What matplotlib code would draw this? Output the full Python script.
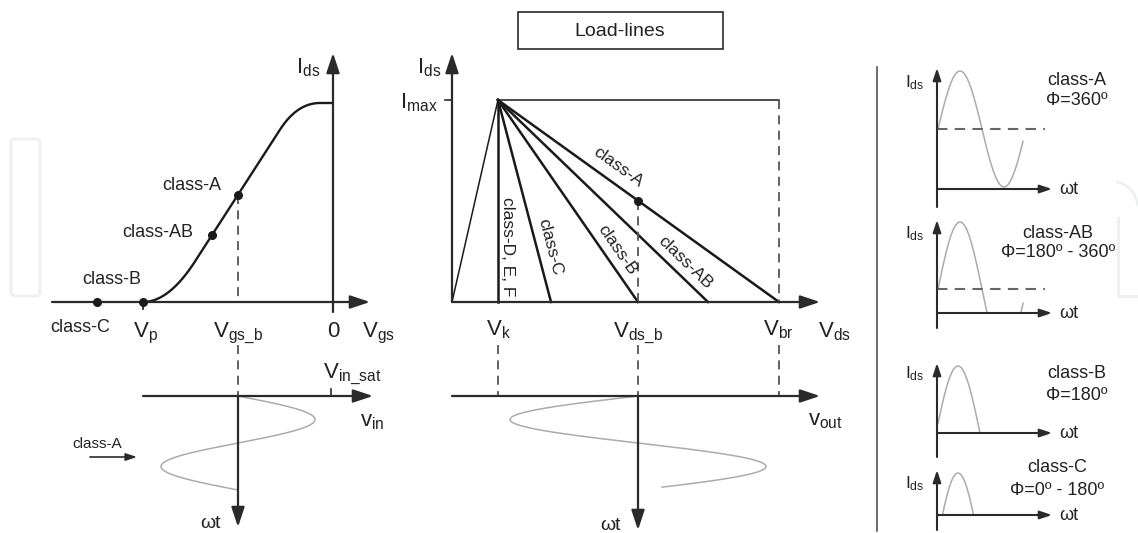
import numpy as np
import matplotlib
matplotlib.use("Agg")
import matplotlib.pyplot as plt
from matplotlib.patches import FancyBboxPatch, Rectangle

plt.rcParams['font.family'] = ['Liberation Sans', 'DejaVu Sans']
plt.rcParams['mathtext.fontset'] = 'custom'
plt.rcParams['mathtext.rm'] = 'Liberation Sans'
plt.rcParams['mathtext.it'] = 'Liberation Sans'

# ---------------- diagram data (drawing units: x right, y down) ----------------
# transfer characteristic Ids(Vgs)
vgs_axis_y = 302
ids_axis_x = 333
vp_x = 143                      # pinch-off voltage
imax_y = 103                    # saturated current level
trans_slope = -1.55             # linear region slope
trans_anchor = (183, 280)       # a point of the linear region
bias_names = ['class-A', 'class-AB', 'class-B', 'class-C']
bias_vgs = [238, 212, 143, 97]
vgs_b = 238
vin_axis_y = 396
vin_sat_x = 331
vin_amp = 77
sine_period = 94

# load lines
ll_origin_x = 452
ll_vk = 498
ll_imax = 100
ll_names = ['class-D, E, F', 'class-C', 'class-B', 'class-AB', 'class-A']
ll_end_vds = [498, 551, 638, 708, 779]
vds_b = 638
vbr = 779
vds_axis_y = 302
vout_axis_y = 396
vout_amp = 128

# conduction-angle panels
cp_names = ['class-A', 'class-AB', 'class-B', 'class-C']
cp_phi = ['Φ=360º', 'Φ=180º - 360º', 'Φ=180º', 'Φ=0º - 180º']
cp_axis_x = 937
cp_base_y = [189, 313, 433, 515]
cp_top_y = [68, 220, 363, 470]
cp_bottom_y = [207, 328, 457, 530]
cp_bias_offset = [60, 24, 0, -34]     # quiescent current above the ωt axis
cp_amp = [58, 67, 67, 76]
cp_phase = [0, 0, 2, 2]
cp_period = 88
cp_span = [85, 85, 44, 40]

BLACK = '#1a1a1a'
AX = '#2a2a2a'
GRAY = '#ababab'
DASH = '#555555'

fig = plt.figure(figsize=(11.38, 5.33), dpi=100)
ax = fig.add_axes([0, 0, 1, 1])
ax.set_xlim(0, 1138)
ax.set_ylim(533, 0)
ax.axis('off')


def arrow(x0, y0, x1, y1, scale=20, lw=1.6, color=AX):
    ax.annotate('', xy=(x1, y1), xytext=(x0, y0),
                arrowprops=dict(arrowstyle='-|>,head_length=0.6,head_width=0.2',
                                mutation_scale=scale, lw=lw, color=color,
                                shrinkA=0, shrinkB=0))


def dashed(x0, y0, x1, y1, color=DASH, lw=1.3):
    ax.plot([x0, x1], [y0, y1], color=color, lw=lw, ls=(0, (5, 3.5)))


def label(x, y, s, size=15, ha='left', va='baseline', **kw):
    ax.text(x, y, s, fontsize=size, ha=ha, va=va, color='#222222', **kw)


def bezier(p0, c, p2, n=40):
    t = np.linspace(0, 1, n)[:, None]
    p0, c, p2 = map(np.asarray, (p0, c, p2))
    return (1 - t) ** 2 * p0 + 2 * (1 - t) * t * c + t ** 2 * p2


def on_line(x):
    return trans_anchor[1] + trans_slope * (x - trans_anchor[0])


# faint background marks
ax.add_patch(FancyBboxPatch((11, 139), 29, 157, boxstyle='round,pad=0,rounding_size=4',
                            fc='none', ec='#eef0f0', lw=2))
arc = bezier((1117, 182), (1134, 186), (1138, 205))
ax.plot(arc[:, 0], arc[:, 1], color='#eef0f0', lw=2)
ax.plot([1118, 1118, 1138], [218, 296, 296], color='#eef0f0', lw=2)

# ---------------- left: transfer characteristic ----------------
arrow(52, vgs_axis_y, 370, vgs_axis_y)
arrow(ids_axis_x, 312, ids_axis_x, 53)

x_knee = trans_anchor[0] + (vgs_axis_y - trans_anchor[1]) / trans_slope
x_sat = trans_anchor[0] + (imax_y - trans_anchor[1]) / trans_slope
low = bezier((vp_x, vgs_axis_y), (x_knee, vgs_axis_y), (195, on_line(195)))
high = bezier((280, on_line(280)), (x_sat, imax_y), (320, imax_y))
curve = np.vstack([low, high, [[ids_axis_x, imax_y]]])
ax.plot(curve[:, 0], curve[:, 1], color=BLACK, lw=1.7, solid_capstyle='round')

bias_ids = [on_line(bias_vgs[0]), on_line(bias_vgs[1]), vgs_axis_y, vgs_axis_y]
ax.scatter(bias_vgs, bias_ids, s=30, color=BLACK, zorder=5)
for name, (x, y) in zip(bias_names, [(192, 190), (158, 237), (112, 284), (80, 332)]):
    label(x, y, name, size=13, ha='center')

dashed(vgs_b, on_line(vgs_b), vgs_b, vgs_axis_y)
dashed(vgs_b, 345, vgs_b, vin_axis_y)
ax.plot([vp_x, vp_x], [vgs_axis_y, 309], color=AX, lw=1.3)

label(296, 73, r'$\mathrm{I}_{\mathrm{ds}}$', size=16)
label(133, 337, r'$\mathrm{V}_{\mathrm{p}}$', size=16)
label(213, 337, r'$\mathrm{V}_{\mathrm{gs\_b}}$', size=16)
label(333, 337, '0', size=16, ha='center')
label(362, 337, r'$\mathrm{V}_{\mathrm{gs}}$', size=16)

# input drive
arrow(143, vin_axis_y, 373, vin_axis_y)
ax.plot([vin_sat_x, vin_sat_x], [vin_axis_y, 389], color=AX, lw=1.2)
arrow(vgs_b, vin_axis_y, vgs_b, 527)
t = np.linspace(0, 1.0, 200)
ax.plot(vgs_b + vin_amp * np.sin(2 * np.pi * t), vin_axis_y + sine_period * t,
        color=GRAY, lw=1.1)
label(323, 378, r'$\mathrm{V}_{\mathrm{in\_sat}}$', size=16)
label(360, 426, r'$\mathrm{v}_{\mathrm{in}}$', size=16)
label(72, 448, 'class-A', size=11)
arrow(90, 457, 137, 457, scale=11, lw=1.2)
label(200, 528, 'ωt', size=14)

# ---------------- middle: load lines ----------------
ax.add_patch(Rectangle((518, 12), 205, 37, fc='white', ec=AX, lw=1.2))
label(620, 31, 'Load-lines', size=14, ha='center', va='center')

arrow(ll_origin_x, vds_axis_y, 820, vds_axis_y)
arrow(ll_origin_x, vds_axis_y, ll_origin_x, 53)
ax.plot([445, ll_origin_x], [ll_imax, ll_imax], color=AX, lw=1.2)
ax.plot([ll_origin_x, ll_vk], [vds_axis_y, ll_imax], color=BLACK, lw=1.1)
ax.plot([ll_vk, vbr], [ll_imax, ll_imax], color=BLACK, lw=1.1)
for xe in ll_end_vds:
    ax.plot([ll_vk, xe], [ll_imax, vds_axis_y], color=BLACK, lw=1.8)

# class-A quiescent point
qa_y = ll_imax + (vds_b - ll_vk) / (vbr - ll_vk) * (vds_axis_y - ll_imax)
ax.scatter([vds_b], [qa_y], s=30, color=BLACK, zorder=5)
dashed(vds_b, qa_y, vds_b, vds_axis_y)
dashed(vbr, ll_imax, vbr, vds_axis_y)
for xv in (ll_vk, vds_b, vbr):
    dashed(xv, 345, xv, vout_axis_y)

# rotated line labels
ll_label_pos = [(508, 247), (550, 247), (617, 250), (685, 263), (618, 167)]
for name, xe, (x, y) in zip(ll_names, ll_end_vds, ll_label_pos):
    ang = -np.degrees(np.arctan2(vds_axis_y - ll_imax, xe - ll_vk))
    ax.text(x, y, name, fontsize=12.5, rotation=ang, ha='center', va='center',
            rotation_mode='anchor', color='#222222')

label(417, 73, r'$\mathrm{I}_{\mathrm{ds}}$', size=16)
label(400, 108, r'$\mathrm{I}_{\mathrm{max}}$', size=16)
label(486, 335, r'$\mathrm{V}_{\mathrm{k}}$', size=16)
label(613, 337, r'$\mathrm{V}_{\mathrm{ds\_b}}$', size=16)
label(763, 335, r'$\mathrm{V}_{\mathrm{br}}$', size=16)
label(818, 337, r'$\mathrm{V}_{\mathrm{ds}}$', size=16)

# output swing
arrow(ll_origin_x, vout_axis_y, 820, vout_axis_y)
arrow(vds_b, vout_axis_y, vds_b, 530)
t = np.linspace(0, 0.97, 200)
ax.plot(vds_b - vout_amp * np.sin(2 * np.pi * t), vout_axis_y + sine_period * t,
        color=GRAY, lw=1.1)
label(808, 425, r'$\mathrm{v}_{\mathrm{out}}$', size=16)
label(600, 530, 'ωt', size=14)

# ---------------- right: conduction angles ----------------
ax.plot([877, 877], [67, 531], color='#444444', lw=1.1)
cp_name_pos = [(1077, 85, 105), (1058, 238, 257), (1077, 378, 400), (1057, 472, 495)]
cp_ids_label_y = [87, 238, 378, 488]
for i in range(4):
    base = cp_base_y[i]
    arrow(cp_axis_x, cp_bottom_y[i], cp_axis_x, cp_top_y[i], scale=12, lw=1.5)
    arrow(cp_axis_x, base, 1052, base, scale=12, lw=1.5)
    xs = np.linspace(0, cp_span[i], 300)
    ids = cp_bias_offset[i] + cp_amp[i] * np.sin(2 * np.pi * (xs + cp_phase[i]) / cp_period)
    ids = np.where(ids > 0, ids, np.nan)
    ax.plot(cp_axis_x + 1 + xs, base - ids, color=GRAY, lw=1.1, zorder=1)
    if cp_bias_offset[i] > 0:
        dashed(cp_axis_x, base - cp_bias_offset[i], 1045, base - cp_bias_offset[i],
               color='#666666', lw=1.5)
    label(905, cp_ids_label_y[i], r'$\mathrm{I}_{\mathrm{ds}}$', size=12.5)
    cx, y1, y2 = cp_name_pos[i]
    label(cx, y1, cp_names[i], size=13, ha='center')
    label(cx, y2, cp_phi[i], size=13, ha='center')
    label(1059, base, 'ωt', size=13, va='center')

fig.savefig('out.png', dpi=100)
